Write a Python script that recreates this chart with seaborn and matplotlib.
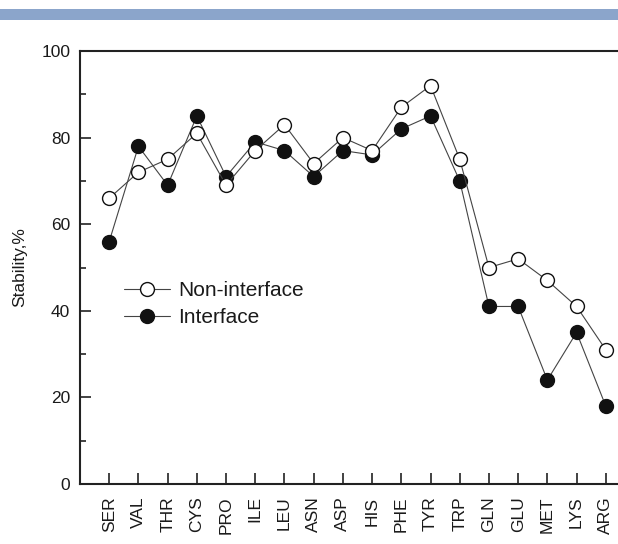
import matplotlib
matplotlib.use("Agg")
import matplotlib.pyplot as plt
from matplotlib.patches import Rectangle
from matplotlib.ticker import MultipleLocator
import seaborn as sns
import pandas as pd

residues = ["SER", "VAL", "THR", "CYS", "PRO", "ILE", "LEU", "ASN", "ASP", "HIS",
            "PHE", "TYR", "TRP", "GLN", "GLU", "MET", "LYS", "ARG"]
non_interface = [66, 72, 75, 81, 69, 77, 83, 74, 80, 77, 87, 92, 75, 50, 52, 47, 41, 31]
interface = [56, 78, 69, 85, 71, 79, 77, 71, 77, 76, 82, 85, 70, 41, 41, 24, 35, 18]

sns.set_theme(style="white")
plt.rcParams["font.family"] = ["Liberation Sans", "DejaVu Sans"]
plt.rcParams["text.color"] = "#1a1a1a"
plt.rcParams["axes.labelcolor"] = "#1a1a1a"
plt.rcParams["xtick.labelcolor"] = "#1a1a1a"
plt.rcParams["ytick.labelcolor"] = "#1a1a1a"

df_non = pd.DataFrame({"residue": residues, "stability": non_interface})
df_int = pd.DataFrame({"residue": residues, "stability": interface})

fig = plt.figure(figsize=(6.18, 5.44), dpi=100)
ax = fig.add_axes([80 / 618, 60 / 544, 555 / 618, 433 / 544])

# header stripe
fig.patches.append(Rectangle((0, 1 - 20 / 544), 1, 11 / 544, transform=fig.transFigure,
                             facecolor="#8ba5cb", edgecolor="none"))

line_kw = dict(color="#444444", linewidth=0.8, marker="o", markersize=10,
               markeredgecolor="#111111", markeredgewidth=1.0)
sns.lineplot(data=df_int, x="residue", y="stability", ax=ax, sort=False,
             markerfacecolor="#111111", label="Interface", zorder=3, **line_kw)
sns.lineplot(data=df_non, x="residue", y="stability", ax=ax, sort=False,
             markerfacecolor="white", label="Non-interface", zorder=4, **line_kw)

ax.set_xlim(-1, 18)
ax.set_ylim(0, 100)
ax.yaxis.set_major_locator(MultipleLocator(20))
ax.yaxis.set_minor_locator(MultipleLocator(10))
ax.tick_params(axis="y", which="major", direction="in", length=8, width=1.2,
               color="#222222", labelsize=12.5, left=True, pad=7)
ax.tick_params(axis="y", which="minor", direction="in", length=4, width=1.2,
               color="#222222", left=True)
ax.tick_params(axis="x", which="major", direction="in", length=8, width=1.2,
               color="#222222", labelsize=12.5, bottom=True, rotation=90, pad=9)
ax.set_xlabel("")
ax.set_ylabel("Stability,%", fontsize=12.5, labelpad=10)

for side in ["left", "bottom", "top"]:
    ax.spines[side].set_visible(True)
    ax.spines[side].set_color("#222222")
    ax.spines[side].set_linewidth(1.5)
ax.spines["right"].set_visible(False)

handles, labels = ax.get_legend_handles_labels()
order = [labels.index("Non-interface"), labels.index("Interface")]
ax.legend([handles[i] for i in order], [labels[i] for i in order],
          loc="upper left", bbox_to_anchor=((124 - 80) / 555, (484 - 281) / 433),
          frameon=False, fontsize=15, handlelength=2.2, handletextpad=0.4,
          labelspacing=0.4, borderpad=0, borderaxespad=0)

fig.savefig("out.png", dpi=100)
